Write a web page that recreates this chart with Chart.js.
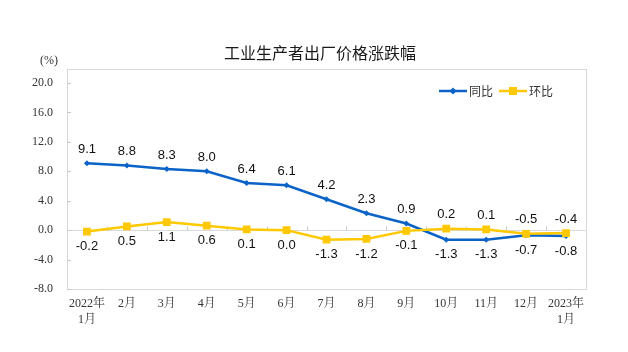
<!DOCTYPE html>
<html>
<head>
<meta charset="utf-8">
<script src="https://cdn.jsdelivr.net/npm/chart.js@4/dist/chart.umd.min.js"></script>
<style>
html,body{margin:0;padding:0;background:#fff;}
#wrap{width:628px;height:352px;position:relative;}
</style>
</head>
<body>
<div id="wrap"><canvas id="c" width="628" height="352"></canvas></div>
<script>
const chartTitle = '工业生产者出厂价格涨跌幅';
const unitLabel = '(%)';
const categories = [['2022年','1月'],'2月','3月','4月','5月','6月','7月','8月','9月','10月','11月','12月',['2023年','1月']];
const seriesNames = ['同比','环比'];
const yoyValues = [9.1, 8.8, 8.3, 8.0, 6.4, 6.1, 4.2, 2.3, 0.9, -1.3, -1.3, -0.7, -0.8];
const momValues = [-0.2, 0.5, 1.1, 0.6, 0.1, 0.0, -1.3, -1.2, -0.1, 0.2, 0.1, -0.5, -0.4];
const yTickValues = [-8, -4, 0, 4, 8, 12, 16, 20];
const yMin = -8, yMax = 21.9;

const BLUE = '#0b63c8';
const YELLOW = '#ffc800';
const SERIF = "'Liberation Serif','Noto Serif CJK SC','Noto Sans CJK SC',serif";
const SANS = "'Liberation Sans','Noto Sans CJK SC',Arial,sans-serif";
const CJK = "'Noto Sans CJK SC','Liberation Sans',sans-serif";

const decor = {
  id: 'decor',
  beforeDraw(chart) {
    const c = chart.ctx;
    c.save();
    c.fillStyle = '#fff';
    c.fillRect(0, 0, chart.width, chart.height);
    c.restore();
  },
  beforeDatasetsDraw(chart) {
    const c = chart.ctx, a = chart.chartArea;
    const ys = chart.scales.y, xs = chart.scales.x;
    c.save();
    c.strokeStyle = '#d9d9d9';
    c.lineWidth = 1;
    c.strokeRect(Math.round(a.left) + 0.5, Math.round(a.top) + 0.5, Math.round(a.right - a.left), Math.round(a.bottom - a.top));
    // inner tick marks on y axis
    c.strokeStyle = '#c8c8c8';
    c.beginPath();
    ys.ticks.forEach(t => {
      const y = Math.round(ys.getPixelForValue(t.value)) + 0.5;
      c.moveTo(a.left, y); c.lineTo(a.left + 4, y);
    });
    // category boundary ticks on zero line
    const y0 = Math.round(ys.getPixelForValue(0)) + 0.5;
    for (let i = 1; i < categories.length; i++) {
      const x = Math.round((xs.getPixelForTick(i - 1) + xs.getPixelForTick(i)) / 2) + 0.5;
      c.moveTo(x, y0); c.lineTo(x, y0 - 4);
    }
    c.stroke();
    c.restore();
  },
  afterDatasetsDraw(chart) {
    const c = chart.ctx;
    c.save();
    c.font = '13px ' + SANS;
    c.fillStyle = '#111';
    c.textAlign = 'center';
    c.textBaseline = 'middle';
    const m0 = chart.getDatasetMeta(0), m1 = chart.getDatasetMeta(1);
    for (let i = 0; i < categories.length; i++) {
      const yoyAbove = yoyValues[i] >= momValues[i];
      const p0 = m0.data[i], p1 = m1.data[i];
      c.fillText(yoyValues[i].toFixed(1), p0.x, p0.y + (yoyAbove ? -14 : 15));
      c.fillText(momValues[i].toFixed(1), p1.x, p1.y + (yoyAbove ? 15 : -14));
    }
    c.restore();
  },
  afterDraw(chart) {
    const c = chart.ctx;
    c.save();
    // title
    c.font = '16px ' + CJK;
    c.fillStyle = '#1a1a1a';
    c.textAlign = 'center';
    c.textBaseline = 'middle';
    c.fillText(chartTitle, 320, 53);
    // unit
    c.font = '12px ' + SERIF;
    c.fillStyle = '#333';
    c.fillText(unitLabel, 49, 61);
    // legend
    const items = [
      {name: seriesNames[0], color: BLUE, style: 'diamond', x: 439},
      {name: seriesNames[1], color: YELLOW, style: 'square', x: 499}
    ];
    const ly = 91;
    items.forEach(it => {
      c.strokeStyle = it.color;
      c.fillStyle = it.color;
      c.lineWidth = 2.5;
      c.beginPath();
      c.moveTo(it.x, ly); c.lineTo(it.x + 28, ly);
      c.stroke();
      const cx = it.x + 14;
      c.beginPath();
      if (it.style === 'diamond') {
        c.moveTo(cx, ly - 3.5); c.lineTo(cx + 3.5, ly); c.lineTo(cx, ly + 3.5); c.lineTo(cx - 3.5, ly);
        c.closePath(); c.fill();
      } else {
        c.fillRect(cx - 4, ly - 4, 8, 8);
      }
      c.font = '12px ' + CJK;
      c.fillStyle = '#333';
      c.textAlign = 'left';
      c.fillText(it.name, it.x + 30, ly);
    });
    c.restore();
  }
};

new Chart(document.getElementById('c'), {
  type: 'line',
  data: {
    labels: categories,
    datasets: [
      {
        label: seriesNames[0], data: yoyValues, borderColor: BLUE, backgroundColor: BLUE,
        borderWidth: 2.5, pointStyle: 'rectRot', pointRadius: 3, pointBorderWidth: 0,
        tension: 0, order: 1
      },
      {
        label: seriesNames[1], data: momValues, borderColor: YELLOW, backgroundColor: YELLOW,
        borderWidth: 2.5, pointStyle: 'rect', pointRadius: 5.5, pointBorderWidth: 0,
        tension: 0, order: 0
      }
    ]
  },
  options: {
    responsive: false,
    animation: false,
    devicePixelRatio: 1,
    layout: { padding: { top: 69, right: 42, left: 0, bottom: 0 } },
    plugins: { legend: { display: false }, tooltip: { enabled: false }, title: { display: false } },
    scales: {
      x: {
        type: 'category',
        offset: true,
        grid: { display: false, drawTicks: false, tickLength: 0 },
        border: { display: false },
        ticks: {
          autoSkip: false, maxRotation: 0, minRotation: 0,
          font: { family: SERIF, size: 12, lineHeight: 1.4 },
          color: '#333', padding: 6
        },
        afterFit(s) { s.height = 63; }
      },
      y: {
        min: yMin, max: yMax,
        afterBuildTicks(s) { s.ticks = yTickValues.map(v => ({ value: v })); },
        grid: {
          color: ctx => (ctx.tick && ctx.tick.value === 0) ? '#d9d9d9' : 'rgba(0,0,0,0)',
          drawTicks: false, tickLength: 0, lineWidth: 1
        },
        border: { display: false },
        ticks: {
          font: { family: SERIF, size: 12 }, color: '#333', padding: 14,
          callback: v => Number(v).toFixed(1)
        },
        afterFit(s) { s.width = 67; }
      }
    }
  },
  plugins: [decor]
});
</script>
</body>
</html>
